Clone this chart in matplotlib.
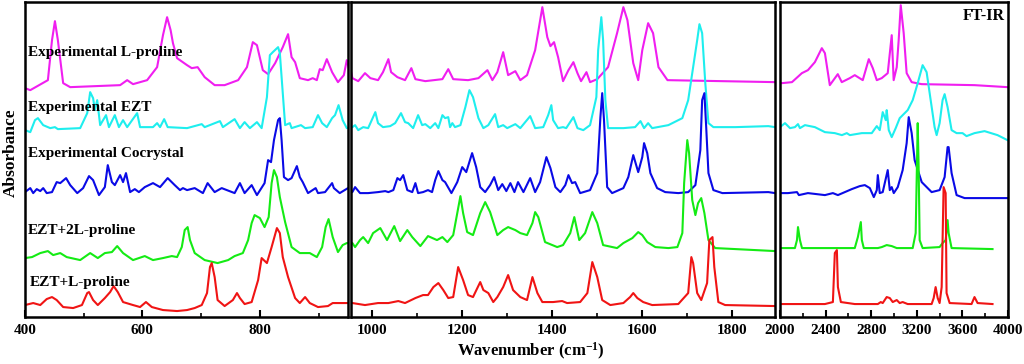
import matplotlib
matplotlib.use("Agg")
import matplotlib.pyplot as plt
import numpy as np
from matplotlib.ticker import MultipleLocator

plt.rcParams['font.family'] = ['Liberation Serif', 'DejaVu Serif']
plt.rcParams['font.weight'] = 'bold'
plt.rcParams['mathtext.fontset'] = 'custom'
plt.rcParams['mathtext.rm'] = 'Liberation Serif:bold'
plt.rcParams['mathtext.bf'] = 'Liberation Serif:bold'
plt.rcParams['mathtext.default'] = 'bf'

# ---- spectra (wavenumber in cm-1, stacked absorbance in a.u.) ----
lpro_wn = [400, 409, 439, 446, 451, 456, 465, 477, 562, 574, 584, 608, 625, 635, 642, 648, 652, 659, 676, 684,
           694, 706, 723, 740, 763, 778, 788, 795, 805, 814, 826, 839, 848, 854, 860, 868, 882, 890, 897, 902,
           907, 914, 923, 933, 943, 948,
           956, 969, 984, 996, 1013, 1024, 1036, 1042, 1056, 1073, 1087, 1096, 1118, 1156, 1169, 1180, 1213, 1236, 1256, 1267,
           1278, 1291, 1302, 1318, 1329, 1344, 1362, 1378, 1389, 1396, 1404, 1413, 1424, 1436, 1447, 1456, 1464, 1476, 1484, 1500,
           1524, 1544, 1558, 1567, 1580, 1591, 1600, 1613, 1624, 1636, 1656, 1895,
           2017, 2105, 2192, 2245, 2306, 2367, 2394, 2437, 2481, 2507, 2542, 2612, 2656, 2726, 2779, 2814, 2849, 2892, 2945, 2980,
           2997, 3024, 3041, 3059, 3085, 3111, 3155, 3242, 3706, 3995]
lpro_abs = [2.29, 2.27, 2.37, 2.77, 2.96, 2.77, 2.34, 2.30, 2.32, 2.37, 2.33, 2.37, 2.50, 2.82, 3.00, 2.87, 2.74, 2.59, 2.52, 2.49,
            2.50, 2.40, 2.32, 2.32, 2.37, 2.50, 2.75, 2.72, 2.47, 2.43, 2.54, 2.70, 2.83, 2.60, 2.55, 2.39, 2.37, 2.39, 2.37, 2.48,
            2.47, 2.58, 2.45, 2.35, 2.42, 2.57,
            2.39, 2.36, 2.44, 2.39, 2.37, 2.45, 2.58, 2.45, 2.40, 2.37, 2.49, 2.38, 2.36, 2.38, 2.48, 2.38, 2.37, 2.39, 2.47, 2.37,
            2.45, 2.65, 2.42, 2.46, 2.37, 2.42, 2.67, 3.10, 2.80, 2.71, 2.75, 2.60, 2.36, 2.47, 2.55, 2.44, 2.36, 2.45, 2.35, 2.38,
            2.50, 2.84, 3.10, 2.97, 2.54, 2.37, 2.67, 2.94, 2.84, 2.50, 2.37, 2.35,
            2.34, 2.35, 2.44, 2.47, 2.55, 2.69, 2.64, 2.32, 2.39, 2.43, 2.35, 2.39, 2.42, 2.37, 2.58, 2.49, 2.37, 2.39, 2.44, 2.82,
            2.37, 2.50, 2.77, 3.12, 2.84, 2.44, 2.35, 2.33, 2.32, 2.30]

ezt_wn = [400, 409, 417, 422, 431, 443, 451, 456, 494, 506, 511, 516, 519, 523, 528, 538, 543, 553, 560, 567,
          574, 591, 596, 618, 625, 630, 637, 643, 676, 701, 706, 732, 737, 757, 766, 774, 783, 795, 803, 812,
          817, 822, 831, 834, 839, 843, 851, 854, 870, 877, 890, 899, 906, 914, 923, 928, 934, 941, 948,
          956, 962, 969, 980, 991, 1007, 1013, 1024, 1040, 1051, 1064, 1073, 1080, 1091, 1102, 1111, 1118, 1129, 1140, 1147,
          1156, 1162, 1169, 1173, 1178, 1184, 1196, 1207, 1216, 1224, 1236, 1247, 1258, 1262, 1273, 1280, 1291, 1300, 1318, 1329,
          1351, 1362, 1380, 1391, 1398, 1402, 1413, 1424, 1431, 1447, 1456, 1469, 1484, 1498, 1502, 1509, 1513, 1518, 1524, 1558,
          1584, 1596, 1604, 1613, 1622, 1658, 1689, 1702, 1713, 1722, 1727, 1733, 1740, 1747, 1758, 1807, 1880, 1895,
          2000, 2044, 2088, 2131, 2158, 2175, 2219, 2306, 2394, 2481, 2543, 2586, 2613, 2718, 2805, 2849, 2875, 2901, 2928, 2936,
          2954, 2980, 3015, 3050, 3076, 3120, 3164, 3208, 3251, 3286, 3313, 3356, 3374, 3400, 3426, 3444, 3470, 3505, 3549, 3601,
          3636, 3706, 3794, 3908, 3995]
ezt_abs = [1.87, 1.85, 1.97, 1.99, 1.92, 1.89, 1.90, 1.88, 1.89, 2.04, 2.25, 2.19, 2.07, 2.17, 1.92, 2.02, 1.90, 2.02, 1.90, 1.97,
           1.90, 2.04, 1.90, 1.90, 1.94, 1.90, 1.98, 1.90, 1.89, 1.93, 1.90, 1.96, 1.90, 1.98, 1.89, 1.95, 1.89, 1.95, 1.89, 2.20,
           2.62, 2.65, 2.70, 2.64, 2.24, 1.92, 1.94, 1.89, 1.92, 1.89, 1.90, 2.02, 1.94, 1.90, 1.99, 2.02, 2.12, 1.97, 1.89,
           1.90, 1.92, 1.87, 1.90, 1.89, 2.05, 1.94, 1.90, 1.91, 1.94, 2.04, 1.95, 1.94, 1.89, 2.02, 1.92, 1.93, 1.89, 1.94, 1.89,
           2.02, 1.99, 2.00, 1.90, 1.94, 1.90, 1.92, 2.10, 2.27, 2.20, 1.99, 1.89, 1.92, 1.95, 2.03, 1.90, 1.92, 1.89, 1.93, 1.89,
           2.01, 1.89, 1.90, 2.02, 2.12, 1.97, 1.89, 1.90, 1.89, 2.00, 1.89, 1.87, 1.92, 2.20, 2.67, 3.00, 2.77, 2.17, 1.89, 1.89,
           1.90, 1.96, 1.89, 1.94, 1.89, 1.92, 1.99, 2.17, 2.50, 2.77, 2.93, 2.84, 2.34, 1.94, 1.90, 1.90, 1.91, 1.90,
           1.90, 1.94, 1.89, 1.90, 1.93, 1.89, 1.92, 1.90, 1.85, 1.84, 1.82, 1.84, 1.82, 1.84, 1.84, 1.91, 1.87, 2.05, 1.97, 2.07,
           1.87, 1.80, 1.89, 1.99, 2.02, 2.07, 2.17, 2.34, 2.52, 2.45, 2.24, 1.90, 1.82, 1.94, 2.17, 2.23, 2.10, 1.87, 1.84, 1.84,
           1.81, 1.84, 1.86, 1.82, 1.77]

cocr_wn = [400, 409, 414, 420, 426, 431, 437, 446, 454, 460, 470, 477, 489, 499, 509, 516, 526, 536, 541, 548,
           553, 562, 567, 572, 579, 587, 594, 604, 618, 630, 643, 655, 664, 669, 676, 689, 703, 711, 723, 735,
           757, 766, 774, 786, 795, 808, 814, 819, 824, 831, 834, 837, 841, 848, 854, 863, 868, 873, 882, 895,
           899, 911, 923, 926, 936, 950,
           956, 962, 973, 991, 1013, 1029, 1036, 1047, 1056, 1062, 1069, 1078, 1089, 1096, 1102, 1113, 1124, 1133, 1140, 1147,
           1156, 1162, 1176, 1189, 1200, 1209, 1222, 1231, 1240, 1251, 1262, 1271, 1280, 1289, 1298, 1307, 1316, 1324, 1336, 1351,
           1362, 1373, 1387, 1396, 1407, 1418, 1429, 1436, 1444, 1451, 1462, 1484, 1500, 1507, 1511, 1515, 1522, 1533, 1558, 1569,
           1580, 1591, 1600, 1604, 1611, 1618, 1633, 1651, 1680, 1702, 1718, 1729, 1733, 1738, 1742, 1747, 1758, 1778, 1880, 1895,
           2000, 2070, 2149, 2166, 2245, 2394, 2464, 2508, 2569, 2630, 2700, 2744, 2788, 2823, 2849, 2858, 2875, 2901, 2945, 2963,
           2980, 2998, 3033, 3076, 3111, 3129, 3155, 3181, 3243, 3330, 3400, 3444, 3470, 3479, 3505, 3549, 3619, 3855, 3995]
cocr_abs = [1.25, 1.29, 1.24, 1.28, 1.26, 1.29, 1.24, 1.25, 1.35, 1.34, 1.39, 1.32, 1.24, 1.29, 1.41, 1.37, 1.22, 1.30, 1.52, 1.35,
            1.32, 1.42, 1.35, 1.44, 1.25, 1.28, 1.25, 1.30, 1.34, 1.30, 1.39, 1.32, 1.27, 1.29, 1.27, 1.29, 1.24, 1.34, 1.25, 1.29,
            1.24, 1.34, 1.24, 1.32, 1.22, 1.34, 1.57, 1.55, 1.77, 1.97, 1.99, 1.77, 1.40, 1.37, 1.39, 1.51, 1.40, 1.35, 1.24, 1.29,
            1.24, 1.25, 1.34, 1.29, 1.24, 1.29,
            1.25, 1.30, 1.24, 1.24, 1.25, 1.26, 1.25, 1.27, 1.39, 1.37, 1.42, 1.27, 1.25, 1.34, 1.24, 1.25, 1.27, 1.25, 1.37, 1.46,
            1.37, 1.35, 1.24, 1.35, 1.50, 1.45, 1.64, 1.50, 1.30, 1.25, 1.32, 1.40, 1.27, 1.33, 1.26, 1.34, 1.25, 1.35, 1.25, 1.39,
            1.25, 1.35, 1.60, 1.49, 1.30, 1.25, 1.32, 1.42, 1.34, 1.35, 1.24, 1.27, 1.44, 2.00, 2.24, 1.97, 1.30, 1.24, 1.29, 1.40,
            1.62, 1.45, 1.60, 1.74, 1.64, 1.44, 1.29, 1.25, 1.24, 1.25, 1.32, 1.67, 2.17, 2.24, 1.90, 1.44, 1.27, 1.24, 1.25, 1.24,
            1.24, 1.24, 1.25, 1.22, 1.24, 1.22, 1.24, 1.22, 1.25, 1.28, 1.31, 1.32, 1.29, 1.20, 1.27, 1.42, 1.24, 1.25, 1.47, 1.27,
            1.30, 1.24, 1.30, 1.47, 1.74, 2.00, 1.84, 1.57, 1.35, 1.25, 1.27, 1.40, 1.70, 1.70, 1.44, 1.22, 1.19, 1.19, 1.19]

ezt2l_wn = [400, 412, 426, 439, 448, 460, 471, 494, 511, 524, 536, 548, 557, 567, 584, 604, 618, 635, 650, 659,
            667, 672, 677, 681, 689, 706, 728, 746, 757, 771, 780, 786, 791, 800, 808, 815, 820, 824, 829, 834,
            843, 854, 868, 885, 897, 906, 912, 917, 924, 933, 941, 948,
            956, 962, 973, 980, 991, 1002, 1018, 1033, 1049, 1062, 1078, 1089, 1107, 1124, 1144, 1156, 1167, 1180, 1189, 1196,
            1202, 1211, 1224, 1240, 1251, 1262, 1273, 1278, 1291, 1302, 1318, 1329, 1344, 1356, 1362, 1369, 1384, 1411, 1424, 1440,
            1449, 1460, 1473, 1489, 1500, 1513, 1544, 1558, 1578, 1591, 1600, 1611, 1629, 1658, 1678, 1689, 1693, 1700, 1704, 1711,
            1718, 1724, 1731, 1738, 1747, 1762, 1807, 1895,
            2000, 2131, 2149, 2158, 2175, 2193, 2656, 2683, 2709, 2718, 2735, 2858, 2893, 2936, 2980, 3024, 3164, 3190, 3208, 3216,
            3225, 3251, 3400, 3426, 3453, 3470, 3479, 3505, 3864]
ezt2l_abs = [0.59, 0.60, 0.64, 0.66, 0.62, 0.64, 0.60, 0.57, 0.64, 0.59, 0.64, 0.65, 0.71, 0.64, 0.57, 0.61, 0.57, 0.59, 0.61, 0.60,
             0.70, 0.87, 0.90, 0.77, 0.64, 0.57, 0.54, 0.57, 0.61, 0.64, 0.77, 0.94, 1.02, 0.99, 0.90, 1.00, 1.34, 1.47, 1.40, 1.20,
             0.95, 0.70, 0.64, 0.64, 0.60, 0.70, 0.90, 0.98, 0.80, 0.65, 0.72, 0.74,
             0.74, 0.70, 0.77, 0.80, 0.74, 0.84, 0.89, 0.77, 0.91, 0.76, 0.87, 0.80, 0.71, 0.81, 0.77, 0.80, 0.75, 0.82, 1.04, 1.21,
             1.04, 0.85, 0.82, 1.04, 1.15, 1.05, 0.89, 0.82, 0.87, 0.90, 0.87, 0.84, 0.82, 0.94, 1.05, 1.00, 0.75, 0.70, 0.72, 0.84,
             1.00, 0.77, 0.84, 1.05, 0.94, 0.72, 0.69, 0.74, 0.79, 0.85, 0.82, 0.75, 0.70, 0.69, 0.70, 0.84, 1.34, 1.77, 1.64, 1.17,
             1.02, 1.14, 1.19, 1.04, 0.77, 0.69, 0.68, 0.66,
             0.69, 0.69, 0.77, 0.90, 0.77, 0.69, 0.69, 0.80, 0.95, 0.77, 0.69, 0.69, 0.70, 0.72, 0.71, 0.69, 0.69, 0.84, 1.94, 1.50,
             0.77, 0.69, 0.70, 0.74, 0.77, 0.97, 0.84, 0.69, 0.68]

eztl_wn = [400, 414, 426, 437, 446, 454, 465, 482, 497, 506, 509, 516, 524, 536, 545, 551, 558, 567, 584, 596,
           606, 616, 635, 659, 676, 689, 701, 710, 715, 718, 723, 728, 740, 754, 761, 766, 774, 786, 797, 803,
           812, 820, 829, 834, 839, 848, 860, 868, 877, 885, 899, 916, 924, 940, 950,
           956, 984, 1013, 1036, 1058, 1073, 1096, 1113, 1124, 1136, 1147, 1158, 1169, 1180, 1191, 1202, 1213, 1224, 1240, 1247,
           1258, 1269, 1278, 1291, 1302, 1313, 1329, 1344, 1356, 1367, 1378, 1402, 1422, 1433, 1462, 1478, 1489, 1500, 1511, 1529,
           1558, 1573, 1580, 1589, 1602, 1622, 1680, 1702, 1709, 1713, 1722, 1731, 1744, 1749, 1756, 1760, 1769, 1784, 1895,
           2000, 2394, 2464, 2481, 2499, 2508, 2534, 2656, 2858, 2884, 2901, 2936, 2963, 2989, 3024, 3050, 3076, 3120, 3330, 3348,
           3365, 3383, 3400, 3418, 3435, 3453, 3461, 3488, 3680, 3706, 3733, 3864]
eztl_abs = [0.12, 0.14, 0.12, 0.18, 0.20, 0.17, 0.10, 0.09, 0.12, 0.24, 0.25, 0.17, 0.12, 0.19, 0.25, 0.31, 0.25, 0.15, 0.12, 0.10,
            0.15, 0.10, 0.07, 0.06, 0.07, 0.09, 0.12, 0.24, 0.50, 0.54, 0.40, 0.17, 0.11, 0.17, 0.24, 0.19, 0.13, 0.15, 0.37, 0.59,
            0.54, 0.70, 0.89, 0.84, 0.60, 0.40, 0.19, 0.14, 0.20, 0.14, 0.10, 0.11, 0.14, 0.14, 0.14,
            0.14, 0.12, 0.14, 0.14, 0.16, 0.14, 0.19, 0.22, 0.22, 0.30, 0.34, 0.27, 0.19, 0.20, 0.50, 0.37, 0.22, 0.20, 0.35, 0.27,
            0.24, 0.15, 0.20, 0.30, 0.42, 0.27, 0.20, 0.17, 0.40, 0.24, 0.15, 0.15, 0.16, 0.14, 0.15, 0.24, 0.55, 0.40, 0.17, 0.12,
            0.14, 0.20, 0.24, 0.19, 0.15, 0.12, 0.13, 0.24, 0.60, 0.54, 0.24, 0.17, 0.34, 0.77, 0.80, 0.50, 0.15, 0.12, 0.11,
            0.13, 0.13, 0.15, 0.64, 0.67, 0.30, 0.15, 0.13, 0.13, 0.15, 0.14, 0.20, 0.19, 0.15, 0.17, 0.14, 0.15, 0.13, 0.13, 0.19,
            0.30, 0.19, 0.14, 0.30, 1.30, 1.24, 0.24, 0.14, 0.13, 0.20, 0.14, 0.13]

names = ['Experimental L-proline', 'Experimental EZT', 'Experimental Cocrystal', 'EZT+2L-proline', 'EZT+L-proline']
colors = ['#f01ef0', '#1eeeee', '#0a0ae6', '#14eb14', '#f01414']
spectra = [(lpro_wn, lpro_abs), (ezt_wn, ezt_abs), (cocr_wn, cocr_abs), (ezt2l_wn, ezt2l_abs), (eztl_wn, eztl_abs)]
label_y = [2.65, 2.10, 1.64, 0.87, 0.35]
label_x = [405, 405, 405, 404, 409]

fig = plt.figure(figsize=(10.24, 3.64), dpi=100)
b, h = 0.129, 0.865
ax1 = fig.add_axes([0.0244, b, 0.3154, h])
ax2 = fig.add_axes([0.3428, b, 0.4141, h])
ax3 = fig.add_axes([0.7617, b, 0.2227, h])

panels = [(ax1, 400, 950, 200, 100, [400, 600, 800]),
          (ax2, 953, 1895, 200, 100, [1000, 1200, 1400, 1600, 1800]),
          (ax3, 2000, 4000, 400, 200, [2000, 2400, 2800, 3200, 3600, 4000])]

for ax, x0, x1, maj, mnr, ticks in panels:
    for (wn, ab), c in zip(spectra, colors):
        ax.plot(wn, ab, color=c, lw=1.5)
    ax.set_xlim(x0, x1)
    ax.set_ylim(0, 3.15)
    ax.set_yticks([])
    ax.set_xticks(ticks)
    ax.xaxis.set_minor_locator(MultipleLocator(mnr))
    ax.tick_params(axis='x', which='major', direction='in', length=5, width=1.5, labelsize=11, pad=5)
    ax.tick_params(axis='x', which='minor', direction='in', length=3, width=1.2)
    for t in ax.get_xticklabels():
        t.set_fontweight('bold')
    for s in ax.spines.values():
        s.set_linewidth(1.8)

for n, x, y in zip(names, label_x, label_y):
    ax1.text(x, y, n, fontsize=11, fontweight='bold', va='center', ha='left')

ax3.text(0.985, 0.955, 'FT-IR', transform=ax3.transAxes, ha='right', va='center', fontsize=11.5, fontweight='bold')

fig.text(0.011, 0.58, 'Absorbance', rotation=90, ha='center', va='center', fontsize=12.5, fontweight='bold')
fig.text(0.518, 0.035, 'Wavenumber (cm$^{-1}$)', ha='center', va='center', fontsize=12, fontweight='bold')

fig.savefig('out.png', dpi=100)
